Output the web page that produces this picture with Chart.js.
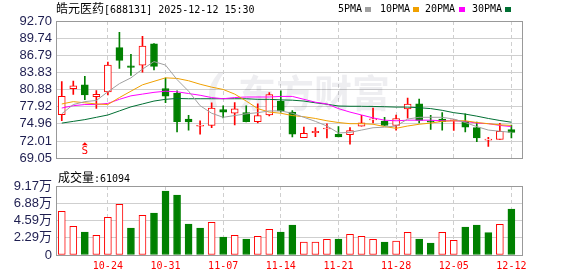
<!DOCTYPE html>
<html>
<head>
<meta charset="utf-8">
<script src="https://cdn.jsdelivr.net/npm/chart.js@4.4.1/dist/chart.umd.min.js"></script>
<style>
  body { margin: 0; background: #fff; width: 578px; height: 276px; position: relative; overflow: hidden; }
  canvas { position: absolute; left: 0; }
  #kline { top: 0; }
  #vol { top: 170px; }
  .txt { position: absolute; white-space: nowrap; line-height: 12px; font-family: "DejaVu Sans Mono", monospace; font-size: 10px; color: #000; }
  .cjk { font-family: "Noto Sans CJK SC"; font-size: 12px; }
  .sq { position: absolute; width: 6px; height: 5px; }
</style>
</head>
<body>
<canvas id="kline" width="578" height="170"></canvas>
<canvas id="vol" width="578" height="106"></canvas>

<div class="txt" style="left:56px;top:2px"><span class="cjk">皓元医药</span>[688131] 2025-12-12 15:30</div>
<div id="legend"></div>
<div class="txt" id="volTitle" style="left:58px;top:171px"></div>

<script>
// 交易日
const dates = [
  "10-20", "10-21", "10-22", "10-23", "10-24",
  "10-27", "10-28", "10-29", "10-30", "10-31",
  "11-03", "11-04", "11-05", "11-06", "11-07",
  "11-10", "11-11", "11-12", "11-13", "11-14",
  "11-17", "11-18", "11-19", "11-20", "11-21",
  "11-24", "11-25", "11-26", "11-27", "11-28",
  "12-01", "12-02", "12-03", "12-04", "12-05",
  "12-08", "12-09", "12-10", "12-11", "12-12"
];
const dateTicks = ["10-24", "10-31", "11-07", "11-14", "11-21", "11-28", "12-05", "12-12"];

// K线 (开 高 低 收)
const open  = [76.55, 81.04, 81.70, 79.67, 80.49, 88.10, 84.98, 85.09, 88.76, 81.06,
               80.22, 75.78, 74.55, 74.69, 77.43, 76.82, 76.93, 75.35, 76.50, 78.85,
               76.99, 72.61, 73.43, 74.09, 73.16, 73.10, 74.58, 75.67, 75.46, 74.69,
               77.54, 78.41, 75.50, 75.78, 75.50, 75.40, 74.31, 72.17, 72.28, 73.98];
const high  = [82.24, 82.35, 83.18, 80.71, 85.64, 90.73, 86.95, 90.07, 88.80, 82.85,
               80.66, 76.44, 75.51, 78.58, 78.08, 78.63, 78.08, 78.41, 80.38, 80.66,
               77.26, 74.42, 74.31, 74.96, 74.52, 74.31, 76.44, 77.70, 76.11, 76.49,
               79.40, 79.23, 76.44, 76.93, 75.65, 76.71, 75.29, 72.66, 75.07, 74.74];
const low   = [75.50, 80.05, 79.12, 77.64, 79.94, 84.54, 83.34, 83.89, 84.27, 78.62,
               73.59, 73.87, 73.21, 74.31, 76.00, 74.80, 75.30, 75.13, 76.33, 77.00,
               72.72, 72.61, 72.77, 72.55, 72.72, 71.46, 74.58, 75.13, 74.69, 73.87,
               75.95, 75.13, 74.03, 73.87, 73.85, 73.59, 71.90, 71.08, 72.28, 72.55];
const close = [79.73, 81.53, 79.94, 80.05, 85.09, 85.91, 84.71, 88.37, 84.87, 79.76,
               75.35, 75.30, 74.60, 77.70, 76.99, 77.54, 75.35, 76.39, 80.00, 77.21,
               73.21, 73.32, 73.70, 74.20, 72.72, 73.81, 75.13, 75.84, 74.69, 75.89,
               78.36, 75.56, 75.25, 75.35, 75.62, 74.42, 72.55, 72.28, 73.70, 73.48];

// 均线
const ma5  = [76.7, 78.3, 78.8, 79.0, 80.5, 81.9, 82.9, 84.4, 85.7, 85.1,
              82.6, 80.6, 78.1, 76.8, 76.1, 76.4, 76.7, 76.9, 77.2, 77.2,
              76.8, 76.1, 75.4, 74.6, 73.4, 73.5, 73.9, 74.3, 74.4, 74.6,
              75.8, 76.1, 76.1, 76.1, 75.8, 75.2, 74.5, 73.9, 73.7, 73.5];
const ma10 = [78.4, 78.8, 78.6, 78.4, 78.3, 79.5, 80.6, 81.7, 82.3, 82.9,
              82.8, 82.4, 81.8, 81.3, 80.9, 80.1, 78.9, 77.6, 77.0, 76.8,
              76.4, 76.2, 75.9, 75.5, 75.2, 75.0, 75.0, 74.9, 74.5, 74.2,
              74.6, 74.9, 75.1, 75.4, 75.5, 75.5, 75.2, 75.0, 74.8, 74.7];
const ma20 = [77.7, 78.1, 78.3, 78.3, 78.5, 79.2, 79.8, 80.1, 80.4, 80.6,
              80.5, 80.2, 79.9, 79.5, 79.3, 79.5, 79.6, 79.6, 79.6, 79.7,
              79.7, 79.2, 78.7, 78.4, 77.6, 77.0, 76.5, 76.0, 75.6, 75.5,
              75.6, 75.6, 75.6, 75.5, 75.5, 75.4, 75.1, 75.0, 74.7, 74.5];
const ma30 = [75.1, 75.4, 75.7, 76.1, 76.5, 77.2, 77.9, 78.4, 78.9, 79.2,
              79.35, 79.3, 79.3, 79.3, 79.3, 79.3, 79.3, 79.2, 79.2, 79.1,
              79.05, 78.9, 78.6, 78.35, 78.05, 78.0, 78.0, 77.97, 77.92, 77.86,
              77.86, 77.75, 77.6, 77.3, 76.9, 76.65, 76.3, 75.9, 75.55, 75.25];

// 成交量
const volume = [58080, 38140, 30570, 26180, 50100, 67380, 35880, 52760, 55820, 85060,
                79740, 41200, 35880, 43460, 23920, 26180, 21260, 24850, 34150, 30570,
                39870, 17280, 17280, 20860, 21260, 27510, 24850, 20860, 17280, 18610,
                30170, 21260, 15950, 30170, 19540, 37210, 39870, 29640, 40800, 61094];

const priceTicks = [92.70, 89.74, 86.79, 83.83, 80.88, 77.92, 74.96, 72.01, 69.05];
const volTicks = [0, 2.29, 4.59, 6.88, 9.17]; // 万

const signalIndex = 2; // "S" 标记

const RED = "#ff0000";
const GREEN = "#008000";
const maNames = ["5PMA", "10PMA", "20PMA", "30PMA"];
const maColors = ["#a0a0a0", "#f0a000", "#ff00ff", "#006f33"];

// 图例
const legendPos = [[338, 365], [380, 413], [425, 459], [472, 505]];
let html = "";
maNames.forEach((n, i) => {
    html += `<div class="txt" style="left:${legendPos[i][0]}px;top:3px">${n}</div>`;
    html += `<div class="sq" style="left:${legendPos[i][1]}px;top:7px;background:${maColors[i]}"></div>`;
});
document.getElementById("legend").innerHTML = html;
document.getElementById("volTitle").innerHTML =
    `<span class="cjk">成交量</span>:${volume[volume.length - 1]}`;

const tickIdx = dateTicks.map((d) => dates.indexOf(d));
const isUp = (i) => close[i] >= open[i];
const volUp = (i) => (i === 0 ? isUp(0) : close[i] >= close[i - 1]);

const labelFont = { family: "'Liberation Sans', 'Noto Sans CJK SC'", size: 13 };
const labelColor = "#1e1e50";

const xAxis = (showLabels) => ({
    type: "linear",
    offset: false,
    min: -0.5,
    max: 39.92,
    afterBuildTicks: (s) => { s.ticks = tickIdx.map((v) => ({ value: v })); },
    afterFit: (s) => { s.height = showLabels ? 21 : 0; },
    grid: { color: "#cfcfcf", drawTicks: false, offset: false },
    border: { display: false, dash: [4, 3] },
    ticks: {
        display: showLabels,
        autoSkip: false,
        maxRotation: 0,
        padding: 5,
        color: RED,
        font: { family: "'DejaVu Sans Mono'", size: 10 },
        callback: (v) => dates[v],
    },
});

// 边框、水印、S标记
const framePlugin = {
    id: "frame",
    beforeDatasetsDraw: (chart, args, opts) => {
        if (!opts.watermark) return;
        const { ctx, chartArea } = chart;
        ctx.save();
        ctx.fillStyle = "rgba(40,40,80,0.08)";
        ctx.textBaseline = "middle";
        ctx.font = "bold 38px 'Noto Sans CJK SC'";
        ctx.fillText("东方财富", chartArea.left + 182, chartArea.top + 72);
        // 简化的logo
        ctx.font = "italic bold 38px 'DejaVu Sans'";
        ctx.fillText("(", chartArea.left + 150, chartArea.top + 70);
        ctx.restore();
    },
    afterDraw: (chart, args, opts) => {
        const { ctx, chartArea: a, scales } = chart;
        ctx.save();
        ctx.strokeStyle = "#999";
        ctx.lineWidth = 1;
        ctx.strokeRect(Math.round(a.left) + 0.5, Math.round(a.top) + 0.5,
            Math.round(a.right - a.left), Math.round(a.bottom - a.top));
        if (opts.signal) {
            const x = scales.x.getPixelForValue(signalIndex);
            const y = a.bottom - 4;
            ctx.fillStyle = RED;
            ctx.beginPath();
            ctx.moveTo(x, y - 12);
            ctx.lineTo(x - 3, y - 9);
            ctx.lineTo(x + 3, y - 9);
            ctx.closePath();
            ctx.fill();
            ctx.font = "11px 'DejaVu Sans Mono'";
            ctx.textAlign = "center";
            ctx.textBaseline = "middle";
            ctx.fillText("S", x, y - 3);
        }
        ctx.restore();
    },
};

const maSets = [ma5, ma10, ma20, ma30].map((arr, k) => ({
    type: "line",
    label: maNames[k],
    data: arr.map((v, i) => ({ x: i, y: v })),
    borderColor: maColors[k],
    borderWidth: 1,
    pointRadius: 0,
    tension: 0,
    order: 0,
}));

new Chart(document.getElementById("kline"), {
    type: "bar",
    data: {
        datasets: [
            ...maSets,
            {
                label: "body",
                data: open.map((o, i) => ({ x: i, y: [o, close[i]] })),
                backgroundColor: (c) => (isUp(c.dataIndex) ? "#fff" : GREEN),
                borderColor: (c) => (isUp(c.dataIndex) ? RED : GREEN),
                borderWidth: 1,
                borderSkipped: false,
                barThickness: 7,
                minBarLength: 1,
                grouped: false,
                order: 1,
            },
            {
                label: "wick",
                data: low.map((l, i) => ({ x: i, y: [l, high[i]] })),
                backgroundColor: (c) => (isUp(c.dataIndex) ? RED : GREEN),
                borderWidth: 0,
                barThickness: 1,
                grouped: false,
                order: 2,
            },
        ],
    },
    options: {
        responsive: false,
        animation: false,
        layout: { padding: { top: 21, right: 56, bottom: 5, left: 0 } },
        plugins: {
            legend: { display: false },
            tooltip: { enabled: false },
            frame: { watermark: true, signal: true },
        },
        scales: {
            x: xAxis(false),
            y: {
                min: 69.05,
                max: 92.70,
                afterBuildTicks: (s) => { s.ticks = priceTicks.map((v) => ({ value: v })); },
                afterFit: (s) => { s.width = 56; },
                grid: { color: "#cfcfcf", drawTicks: false },
                border: { display: false },
                ticks: {
                    autoSkip: false,
                    padding: 4,
                    color: labelColor,
                    font: labelFont,
                    callback: (v) => v.toFixed(2),
                },
            },
        },
    },
    plugins: [framePlugin],
});

new Chart(document.getElementById("vol"), {
    type: "bar",
    data: {
        datasets: [
            {
                label: "成交量",
                data: volume.map((v, i) => ({ x: i, y: v })),
                backgroundColor: (c) => (volUp(c.dataIndex) ? "#fff" : GREEN),
                borderColor: (c) => (volUp(c.dataIndex) ? RED : GREEN),
                borderWidth: 1,
                borderSkipped: false,
                barThickness: 7,
            },
        ],
    },
    options: {
        responsive: false,
        animation: false,
        layout: { padding: { top: 16, right: 56, bottom: 0, left: 0 } },
        plugins: {
            legend: { display: false },
            tooltip: { enabled: false },
            frame: { watermark: false, signal: false },
        },
        scales: {
            x: xAxis(true),
            y: {
                min: 0,
                max: 91700,
                afterBuildTicks: (s) => { s.ticks = volTicks.map((v) => ({ value: v * 10000 })); },
                afterFit: (s) => { s.width = 56; },
                grid: { color: "#cfcfcf", drawTicks: false },
                border: { display: false },
                ticks: {
                    autoSkip: false,
                    padding: 4,
                    color: labelColor,
                    font: labelFont,
                    callback: (v) => (v === 0 ? "0" : (v / 10000).toFixed(2) + "万"),
                },
            },
        },
    },
    plugins: [framePlugin],
});
</script>
</body>
</html>
